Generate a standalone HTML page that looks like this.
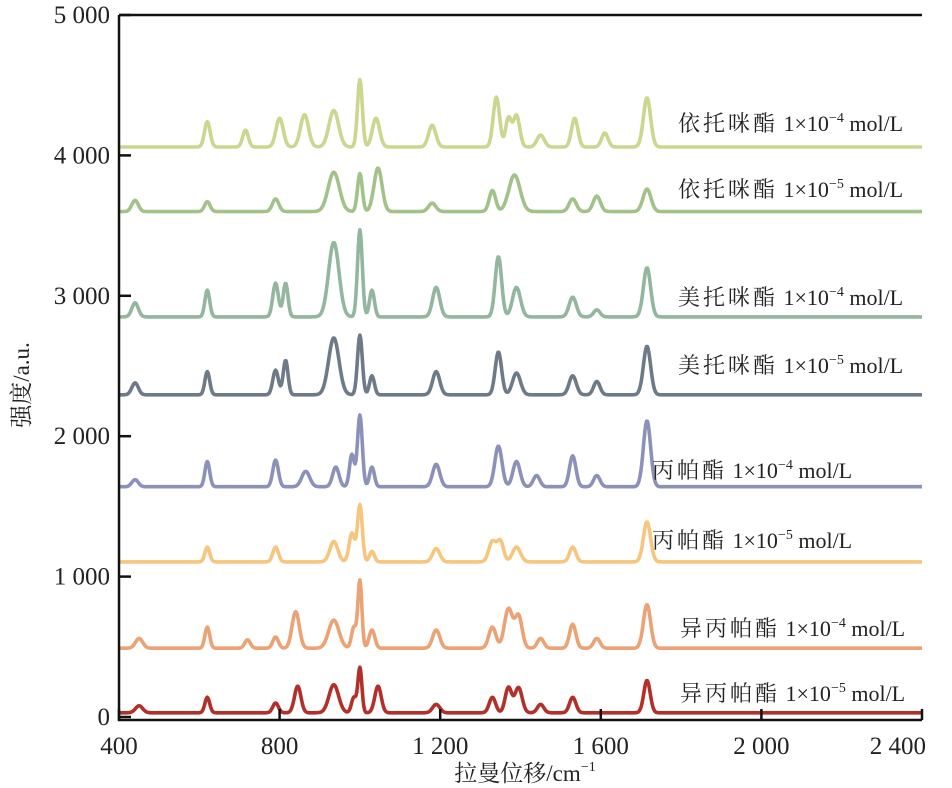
<!DOCTYPE html>
<html><head><meta charset="utf-8">
<style>
html,body{margin:0;padding:0;background:#fff;}
svg{display:block;}
text{font-family:"Liberation Serif","Noto Serif CJK SC",serif;fill:#222;}
</style></head>
<body>
<svg id="chart" width="952" height="788" viewBox="0 0 952 788" xmlns="http://www.w3.org/2000/svg">
<g id="series"></g>
<g id="axes"></g>
<g id="labels"></g>
</svg>
<script>
const xTicks = [400, 800, 1200, 1600, 2000, 2400];
const xTickLabels = ["400", "800", "1 200", "1 600", "2 000", "2 400"];
const yTicks = [0, 1000, 2000, 3000, 4000, 5000];
const yTickLabels = ["0", "1 000", "2 000", "3 000", "4 000", "5 000"];
const seriesNames = ["依托咪酯 1×10⁻⁴ mol/L","依托咪酯 1×10⁻⁵ mol/L","美托咪酯 1×10⁻⁴ mol/L","美托咪酯 1×10⁻⁵ mol/L","丙帕酯 1×10⁻⁴ mol/L","丙帕酯 1×10⁻⁵ mol/L","异丙帕酯 1×10⁻⁴ mol/L","异丙帕酯 1×10⁻⁵ mol/L"];
const seriesColors = ["#cdd68e","#a3c28a","#93b69e","#6e7a88","#8c91ba","#f6c67f","#eba274","#b3302a"];
const baselines = [4060, 3600, 2850, 2295, 1640, 1105, 490, 30];
const peakCenters = [
 [620,715,800,862,935,1000,1040,1180,1340,1370,1390,1450,1535,1610,1715],
 [440,620,790,935,1000,1045,1180,1330,1385,1530,1590,1715],
 [440,620,790,815,935,1000,1030,1190,1345,1390,1530,1590,1715],
 [440,620,790,815,935,1000,1030,1190,1345,1390,1530,1590,1715],
 [440,620,790,865,940,980,1000,1030,1190,1345,1390,1440,1530,1590,1715],
 [620,790,935,980,1000,1030,1190,1330,1350,1390,1530,1715],
 [450,620,720,790,840,935,985,1000,1030,1190,1330,1370,1395,1450,1530,1590,1715],
 [450,620,790,845,935,985,1000,1045,1190,1330,1370,1395,1450,1530,1715]
];
const peakValues = [
 [4240,4180,4265,4290,4320,4540,4265,4215,4415,4265,4285,4145,4265,4160,4410],
 [3680,3670,3690,3880,3870,3910,3660,3750,3860,3690,3710,3760],
 [2950,3040,3090,3090,3380,3470,3040,3060,3280,3060,2990,2900,3200],
 [2380,2460,2470,2540,2700,2720,2430,2460,2600,2450,2430,2390,2640],
 [1690,1820,1830,1750,1780,1870,2150,1780,1800,1930,1820,1720,1860,1720,2110],
 [1210,1210,1250,1310,1510,1180,1200,1250,1250,1210,1210,1390],
 [560,640,550,570,750,690,640,970,620,620,640,770,720,560,660,560,800],
 [80,140,100,220,230,140,350,220,90,140,210,210,90,140,260]
];
const peakWidths = [
 [7,7,9,10,12,6,9,9,8,7,8,9,8,8,9],
 [8,7,8,14,6,10,9,8,14,9,9,10],
 [8,6,7,6,13,6,6,9,8,10,9,8,9],
 [8,6,7,6,13,6,6,9,8,10,9,8,9],
 [8,6,7,10,8,6,6,6,9,9,9,8,8,8,9],
 [6,7,10,7,6,6,9,9,8,10,8,9],
 [9,6,7,7,9,13,6,5,7,9,9,10,9,8,8,8,9],
 [9,6,7,8,12,6,5,8,9,8,8,9,8,8,8]
];

const X0=119, X1=922, Y0=717, Y1=15;
const xs = w => X0 + (w-400)/(2000)*(X1-X0);
const ys = v => Y0 - v/5000*(Y0-Y1);
const NS="http://www.w3.org/2000/svg";
function mk(tag, attrs, parent){const e=document.createElementNS(NS,tag);for(const k in attrs)e.setAttribute(k,attrs[k]);parent.appendChild(e);return e;}

const gS=document.getElementById('series');
seriesNames.forEach((name,i)=>{
  let d="";
  for(let w=400; w<=2400; w+=2){
    let v=baselines[i];
    peakCenters[i].forEach((c,j)=>{
      const s=peakWidths[i][j];
      v += (peakValues[i][j]-baselines[i])*Math.exp(-((w-c)*(w-c))/(2*s*s));
    });
    d += (d?"L":"M")+xs(w).toFixed(1)+","+ys(v).toFixed(1);
  }
  const p=mk('path',{d:d,fill:"none",stroke:seriesColors[i],"stroke-width":3.6,"stroke-linejoin":"round"},gS);
  
  
});

const gA=document.getElementById('axes');
const frame=mk('path',{d:`M${X0},${Y1}L${X0},${Y0+3}L${X1},${Y0+3}M${X0},${Y1}L${X1},${Y1}`,fill:"none",stroke:"#111","stroke-width":2.5},gA);


yTicks.forEach((t,i)=>{
  const y=ys(t);
  const tk=mk('line',{x1:X0,x2:X0+12,y1:y,y2:y,stroke:"#111","stroke-width":2.5},gA);
  
  
  const tx=mk('text',{x:X0-9,y:y+8,"text-anchor":"end","font-size":25},gA);
  tx.textContent=yTickLabels[i];
  
  
});
xTicks.forEach((t,i)=>{
  const x=xs(t);
  const tk=mk('line',{x1:x,x2:x,y1:Y0+3,y2:Y0-8,stroke:"#111","stroke-width":2.5},gA);
  
  
  const anchor = i===xTicks.length-1 ? "end" : "middle";
  const tx=mk('text',{x: i===xTicks.length-1 ? x+4 : x,y:754,"text-anchor":anchor,"font-size":25},gA);
  tx.textContent=xTickLabels[i];
  
  
});
const xt=mk('text',{x:525,y:781,"text-anchor":"middle","font-size":23},gA);
xt.innerHTML='拉曼位移/cm<tspan font-size="14" dy="-10">−1</tspan>';


const yt=mk('text',{x:0,y:0,"text-anchor":"middle","font-size":23,transform:"translate(29,385) rotate(-90)"},gA);
yt.textContent='强度/a.u.';



const labelPos=[[678,131],[678,197],[678,305],[678,373],[652,478],[652,548],[680,636],[680,701]];
const gL=document.getElementById('labels');
seriesNames.forEach((name,i)=>{
  const m=name.match(/^(\S+) 1×10(⁻\S) mol\/L$/);
  const exp=m[2]==="⁻⁴"?"−4":"−5";
  const t=mk('text',{x:labelPos[i][0],y:labelPos[i][1],"font-size":22},gL);
  t.innerHTML='<tspan letter-spacing="3">'+m[1]+'</tspan> 1×10<tspan font-size="14" dy="-9">'+exp+'</tspan><tspan dy="9"> mol/L</tspan>';
  
  
});
</script>
</body></html>
